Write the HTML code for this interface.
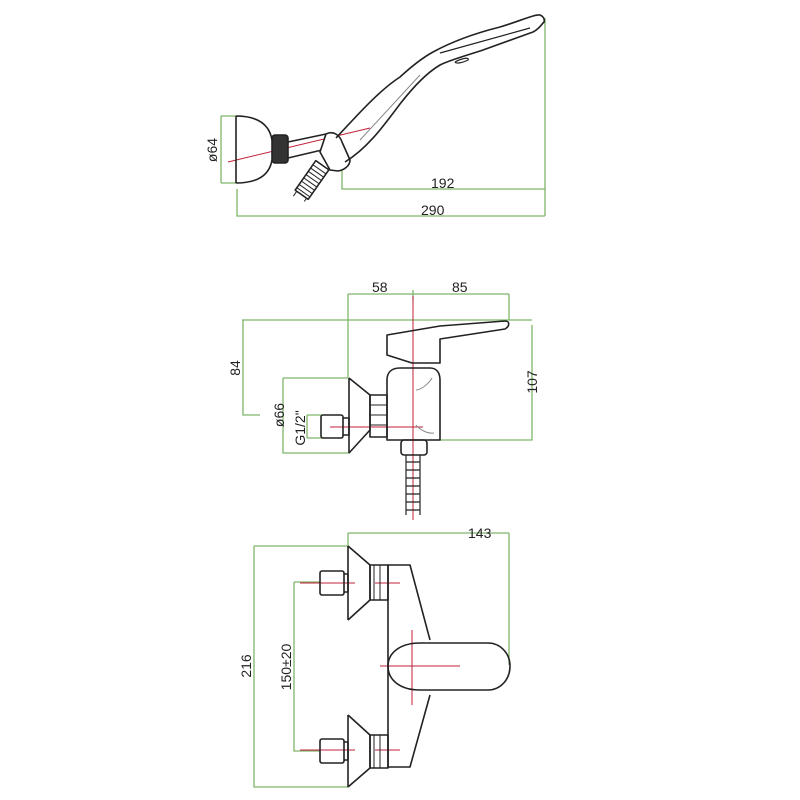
<!DOCTYPE html>
<html><head><meta charset="utf-8"><style>
html,body{margin:0;padding:0;background:#fff;}
svg{display:block;}
text{font-family:"Liberation Sans",sans-serif;font-size:14px;fill:#222;}
</style></head><body>
<svg width="800" height="800" viewBox="0 0 800 800" xmlns="http://www.w3.org/2000/svg">
<g fill="none" stroke="#7fb56a" stroke-width="1.3">
<path d="M221 116V183M221 116H236M221 183H236"/>
<path d="M342 150V189H545M545 18V216M237 189V216H545"/>
<path d="M348 294H509M348 294V378M413 290V300M509 294V320M242 320H532"/>
<path d="M243 320V415H260M532 325V440H430"/>
<path d="M283 378H348M283 378V453H350"/>
<path d="M307 415V438M307 415H322M307 438H322"/>
<path d="M348 533H509M348 533V546M509 533V665"/>
<path d="M254 546H348M254 546V787H348"/>
<path d="M294 582H320M294 582V751H320"/>
</g>
<g fill="none" stroke="#c0203a" stroke-width="1">
<path d="M228 162L370 128"/>
<path d="M413 296V520M330 427H423"/>
<path d="M300 583H355M375 583H400M300 750H355M375 750H400M380 666H460M412 630V705"/>
</g>
<g fill="none" stroke="#222" stroke-width="1.6" stroke-linejoin="round">
<path d="M236 116V183M236 116C262 116 270 128 272 140M236 183C262 183 270 172 272 160"/>
<rect x="272" y="135" width="16" height="28" rx="3" fill="#333"/>
<path d="M288 142L326 134M288 158L322 150"/>
<g transform="translate(312 180) rotate(35)">
<rect x="-8" y="-18" width="16" height="36"/>
<path d="M-8 -13H8M-8 -9H8M-8 -5H8M-8 -1H8M-8 3H8M-8 7H8M-8 11H8M-8 15H8" stroke-width="1"/>
<path d="M-6 18V24M6 18V22" stroke-width="1"/>
</g>
<path d="M326 134C334 130 340 136 342 142L350 160C350 166 344 170 338 171L330 170L320 152Z" fill="#fff"/>
<path d="M336 138C360 112 380 90 400 77C412 66 422 58 433 52C455 40 480 32 500 27C520 21 535 14 540 15C545 17 545 22 543 23C540 27 537 30 533 32L483 50C465 56 450 60 440 65C428 72 414 86 400 104C385 124 368 148 345 162"/>
<path d="M440 53L530 28M455 62C462 58 470 57 468 60C462 63 456 64 455 62" stroke-width="1.2"/>
<path d="M360 140L420 75" stroke-width="1" stroke="#888"/>
<path d="M349 378V453M349 378L370 395V430L349 453"/>
<rect x="370" y="395" width="17" height="42"/>
<path d="M370 405H387M370 415H387M370 425H387" stroke-width="1"/>
<rect x="321" y="415" width="22" height="23" rx="2"/>
<path d="M343 418H349V435H343"/>
<path d="M387 440V380C387 372 392 368 400 368H430C436 368 440 372 440 380V440Z"/>
<path d="M387 335L440 326L505 321C510 321 510 326 505 329L440 339V363H412L387 355Z"/>
<path d="M432 378C428 385 420 390 416 390M416 425C420 430 428 434 434 433" stroke="#888" stroke-width="1"/>
<rect x="401" y="440" width="26" height="15" rx="3"/>
<path d="M406 455V515M420 455V515M406 462H420M406 470H420M406 478H420M406 486H420M406 494H420M406 502H420M406 510H420" stroke-width="1.2"/>
<path d="M348 546V620M348 546L370 565V600L348 620"/>
<rect x="370" y="565" width="18" height="35"/>
<path d="M374 565V600M380 565V600" stroke-width="1"/>
<rect x="320" y="571" width="24" height="24" rx="2"/>
<path d="M344 574H348V592H344"/>
<path d="M348 715V787M348 715L370 735V768L348 787"/>
<rect x="370" y="735" width="18" height="33"/>
<path d="M374 735V768M380 735V768" stroke-width="1"/>
<rect x="320" y="739" width="24" height="24" rx="2"/>
<path d="M344 742H348V760H344"/>
<path d="M388 565H410L430 640M430 695L410 767H388V565"/>
<path d="M420 643H488C500 643 510 653 510 666C510 680 500 690 488 690H420C400 690 388 680 388 666C388 653 400 643 420 643Z"/>
</g>
<text x="431" y="188">192</text>
<text x="421" y="215">290</text>
<text x="372" y="292">58</text>
<text x="452" y="292">85</text>
<text x="468" y="538">143</text>
<text transform="translate(217 150) rotate(-90)" text-anchor="middle">ø64</text>
<text transform="translate(240 368) rotate(-90)" text-anchor="middle">84</text>
<text transform="translate(537 382) rotate(-90)" text-anchor="middle">107</text>
<text transform="translate(284 415) rotate(-90)" text-anchor="middle">ø66</text>
<text transform="translate(305 428) rotate(-90)" text-anchor="middle">G1/2"</text>
<text transform="translate(251 666) rotate(-90)" text-anchor="middle">216</text>
<text transform="translate(291 667) rotate(-90)" text-anchor="middle">150±20</text>
</svg>
</body></html>
